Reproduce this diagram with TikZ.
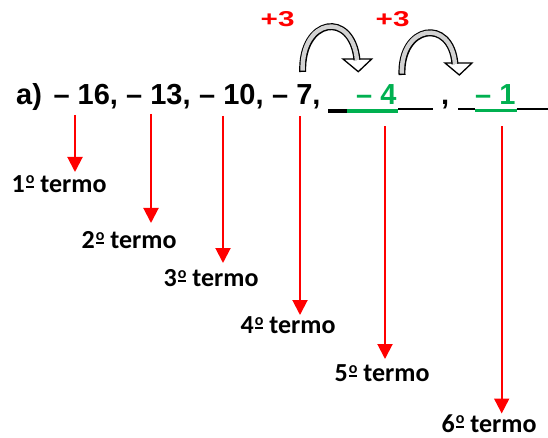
\documentclass[tikz,border=0pt]{standalone}
\usepackage{fontspec}
\setmainfont{Liberation Sans}
\newfontfamily\calib{Carlito}
\usetikzlibrary{arrows.meta}
\definecolor{termred}{RGB}{255,0,0}
\definecolor{termgreen}{RGB}{0,176,80}
% masculine ordinal: raised small o with a bar under it
\newcommand\ordmark{{\kern1pt\setbox0\hbox{\fontsize{16}{16}\selectfont o}%
  \raisebox{8.3pt}{\copy0}\kern-\wd0\rule[4.3pt]{\wd0}{2pt}}}
\tikzset{
  seq/.style={anchor=base west, inner sep=0pt, font=\fontsize{29}{29}\selectfont\bfseries},
  ans/.style={seq, text=termgreen},
  plus/.style={anchor=base west, inner sep=0pt, text=termred, font=\fontsize{21.5}{21.5}\selectfont\bfseries},
  lab/.style={anchor=base west, inner sep=0pt, font=\calib\fontsize{26}{26}\selectfont\bfseries},
  pointer/.style={termred, line width=2pt, -{Triangle[length=15pt,width=15pt]}},
  shaftout/.style={black, line width=7pt},
  shaftin/.style={gray!35, line width=4.4pt, shorten <=1.3pt},
  bighead/.style={fill=white, draw=black, line width=1.3pt, line join=miter},
  blank/.style={black, line width=1.7pt},
  blankthick/.style={black, line width=3.3pt},
  fillin/.style={termgreen, line width=3.5pt}
}
\begin{document}
\begin{tikzpicture}[x=1pt, y=-1pt]
  \useasboundingbox (0,0) rectangle (548,438);

  % the sequence
  \node[seq] (lbl) at (16,105) {a)};
  \node[seq] (t1) at (53.3,105) {– 16,};
  \node[seq] (t2) at (126,105) {– 13,};
  \node[seq] (t3) at (199,105) {– 10,};
  \node[seq] (t4) at (272,105) {– 7,};
  \node[ans] (t5) at (356,105) {– 4};
  \node[seq] (sep) at (441,105) {,};
  \node[ans] (t6) at (475,105) {– 1};

  % answer blanks
  \draw[blankthick] (328,111) -- (347,111);
  \draw[fillin] (347,111) -- (398,111);
  \draw[blank] (398,109.3) -- (433,109.3);
  \draw[blank] (458,109.3) -- (475,109.3);
  \draw[fillin] (475,110.3) -- (516.7,110.3);
  \draw[blank] (516.7,109.3) -- (548,109.3);

  % common difference
  \node[plus] (d1) at (260.5,26.7) {\scalebox{1.38}[1]{+3}};
  \node[plus] (d2) at (375.5,26.7) {\scalebox{1.38}[1]{+3}};

  % curved block arrows
  \coordinate (a1s) at (302.7,72);
  \coordinate (a1e) at (357,60);
  \filldraw[bighead] (343,59) -- (371.7,59) -- (358.3,71.7) -- cycle;
  \draw[shaftout] (a1s) .. controls (301,18) and (352,10) .. (a1e);
  \draw[shaftin] (a1s) .. controls (301,18) and (352,10) .. (a1e);

  \coordinate (a2s) at (402,75);
  \coordinate (a2e) at (455,64);
  \filldraw[bighead] (445,63) -- (472,63) -- (459.3,75) -- cycle;
  \draw[shaftout] (a2s) .. controls (400,25) and (451,17) .. (a2e);
  \draw[shaftin] (a2s) .. controls (400,25) and (451,17) .. (a2e);

  % term labels
  \node[lab] (l1) at (11.5,192.3) {1\ordmark\ termo};
  \node[lab] (l2) at (81.5,248.3) {2\ordmark\ termo};
  \node[lab] (l3) at (163.5,286.7) {3\ordmark\ termo};
  \node[lab] (l4) at (240.5,333.3) {4\ordmark\ termo};
  \node[lab] (l5) at (334.5,381.7) {5\ordmark\ termo};
  \node[lab] (l6) at (441.5,432) {6\ordmark\ termo};

  % pointers from each term down to its label
  \coordinate (p1s) at (75,115);   \coordinate (p1e) at (75,172);
  \coordinate (p2s) at (151,114);  \coordinate (p2e) at (151,223);
  \coordinate (p3s) at (223,116);  \coordinate (p3e) at (223,263);
  \coordinate (p4s) at (300,116.5);\coordinate (p4e) at (300,315);
  \coordinate (p5s) at (385,126.5);\coordinate (p5e) at (385,359);
  \coordinate (p6s) at (501.7,126.5);\coordinate (p6e) at (501.7,413.5);
  \foreach \i in {1,...,6} \draw[pointer] (p\i s) -- (p\i e);
\end{tikzpicture}
\end{document}
